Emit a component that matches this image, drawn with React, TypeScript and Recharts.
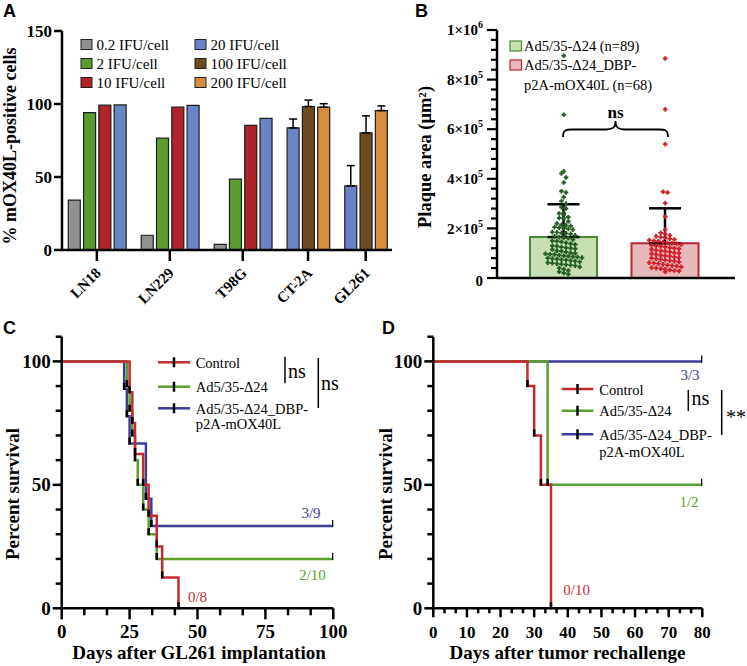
import React from 'react';
import {
  BarChart, Bar, Cell, ErrorBar, XAxis, YAxis, Legend,
  ComposedChart, Scatter, LineChart, Line,
} from 'recharts';

const SERIF = '"Liberation Serif", "Times New Roman", serif';
const SANS = '"Liberation Sans", Arial, sans-serif';
const INK = '#000';

// ---------- A: % mOX40L-positive cells per cell line and dose
const cellLines = ['LN18', 'LN229', 'T98G', 'CT-2A', 'GL261'];
const doseLabels = ['0.2 IFU/cell', '2 IFU/cell', '10 IFU/cell', '20 IFU/cell', '100 IFU/cell', '200 IFU/cell'];
const doseColors = ['#909090', '#5c9c2e', '#b1232b', '#6a85c7', '#6c4c1f', '#d58d3d'];
const pct02 = [34.2, 10.1, 3.9, null, null];
const pct2 = [94.1, 76.6, 48.5, null, null];
const pct10 = [99.2, 97.8, 85.3, null, null];
const pct20 = [99.4, 99.0, 90.1, 83.6, 43.9];
const pct100 = [null, null, null, 98.3, 80.2];
const pct200 = [null, null, null, 97.8, 95.5];
const sd20 = [null, null, null, 6.1, 13.9];
const sd100 = [null, null, null, 4.4, 11.7];
const sd200 = [null, null, null, 2.4, 3.2];

// ---------- B: plaque areas (µm²)
const plaqueGroups = ['Ad5/35-Δ24 (n=89)', 'Ad5/35-Δ24_DBP-p2A-mOX40L (n=68)'];
const plaqueMean = [165000, 140000];
const plaqueSd = [132000, 141000];
const plaqueDelta24 = [
  896000, 658000, 430000, 422000, 405000, 385000, 350000, 345000, 326000, 310000, 300000,
  285000, 280000, 262000, 260000, 255000, 245000, 242000, 240000, 228000, 220000, 215000, 212000,
  210000, 205000, 202000, 200000, 198000, 195000,
  185000, 184000, 182000, 180000, 178000, 172000, 168000, 165000, 162000, 160000, 155000, 150000,
  148000, 146000, 142000, 138000, 135000, 130000, 128000, 125000, 122000, 120000, 118000, 115000,
  110000, 108000, 105000, 102000, 100000, 98000, 96000, 95000, 92000, 90000, 88000, 86000, 84000,
  82000, 80000, 78000, 76000, 74000, 72000, 70000, 68000, 65000, 62000, 60000, 58000, 56000, 54000,
  52000, 50000, 45000, 40000, 35000, 30000, 25000, 20000, 15000,
];
const plaqueOX40L = [
  885000, 680000, 540000, 348000, 345000, 302000, 248000, 195000, 182000, 178000, 172000, 168000,
  165000, 162000, 158000, 155000, 152000, 150000,
  148000, 145000, 142000, 140000, 138000, 135000, 132000, 130000, 128000, 125000, 122000, 120000,
  118000, 115000, 112000, 110000, 108000, 105000, 102000, 100000, 98000, 95000, 92000, 90000,
  88000, 85000, 82000, 80000, 78000, 75000, 72000, 70000, 68000, 65000, 62000, 60000, 58000,
  55000, 52000, 50000, 48000, 45000, 42000, 40000, 38000, 35000, 32000, 30000, 28000, 25000,
];
const plaqueFill = ['#c7dfb3', '#e9b8bb'];
const plaqueStroke = ['#4b8a35', '#b8272f'];
const plaqueDot = ['#245c24', '#cf2028'];

// ---------- C / D: survival
const survivalGroups = ['Control', 'Ad5/35-Δ24', 'Ad5/35-Δ24_DBP-p2A-mOX40L'];
const survivalColors = ['#c62a2f', '#5aa02e', '#3a3e98'];
const cControlDays = [0, 25, 26, 27, 30, 32, 35, 37, 43];
const cControlSurv = [100, 87.5, 75, 62.5, 50, 37.5, 25, 12.5, 0];
const cDelta24Days = [0, 24, 25, 26, 27, 28, 30, 32, 35, 100];
const cDelta24Surv = [100, 90, 80, 70, 60, 50, 40, 30, 20, 20];
const cOX40LDays = [0, 23, 24, 25, 31, 33, 100];
const cOX40LSurv = [100, 88.9, 77.8, 66.7, 44.4, 33.3, 33.3];
const dControlDays = [0, 28, 30, 32, 35];
const dControlSurv = [100, 90, 70, 50, 0];
const dDelta24Days = [0, 34, 80];
const dDelta24Surv = [100, 50, 50];
const dOX40LDays = [0, 80];
const dOX40LSurv = [100, 100];

// ---------- derived tables
const doseValues = [pct02, pct2, pct10, pct20, pct100, pct200];
const doseSd = [null, null, null, sd20, sd100, sd200];
const GROUP_GAP = 1.77;
const barRows: any[] = [];
const groupCenters: number[] = [];
let slot = 0;
cellLines.forEach((_, li) => {
  const start = slot;
  doseValues.forEach((vals, di) => {
    const v = vals[li];
    if (v == null) return;
    const sd = doseSd[di] ? doseSd[di]![li] : null;
    barRows.push({ pos: slot, value: v, dose: di, err: sd != null ? [0, sd] : undefined });
    slot += 1;
  });
  groupCenters.push((start + slot - 1) / 2);
  slot += GROUP_GAP - 1;
});

const plaqueBars = plaqueGroups.map((name, i) => ({ name, mean: plaqueMean[i], sdRange: [0, plaqueSd[i]] }));

// simple binned beeswarm: points of similar value share a row, centred on the group
function swarm(values: number[], center: number, bin: number, step: number) {
  const rows = new Map<number, number[]>();
  values.forEach((v) => {
    const k = Math.round(v / bin);
    rows.set(k, [...(rows.get(k) ?? []), v]);
  });
  const out: { x: number; y: number }[] = [];
  rows.forEach((vs) => vs.forEach((v, i) => out.push({ x: center + (i - (vs.length - 1) / 2) * step, y: v })));
  return out;
}
const swarmDelta24 = swarm(plaqueDelta24, 1, 18000, 0.045);
const swarmOX40L = swarm(plaqueOX40L, 2, 18000, 0.045);

const zipCurve = (days: number[], surv: number[]) => days.map((t, i) => ({ t, s: surv[i] }));
const curvesC = [zipCurve(cControlDays, cControlSurv), zipCurve(cDelta24Days, cDelta24Surv), zipCurve(cOX40LDays, cOX40LSurv)];
const curvesD = [zipCurve(dControlDays, dControlSurv), zipCurve(dDelta24Days, dDelta24Surv), zipCurve(dOX40LDays, dOX40LSurv)];

const ticksC = Array.from({ length: 13 }, (_, i) => (i * 25) / 3);
const ticksD = Array.from({ length: 25 }, (_, i) => (i * 10) / 3);
const pctTicks = Array.from({ length: 12 }, (_, i) => i * 10);
const plaqueTicks = Array.from({ length: 26 }, (_, i) => i * 40000);

// ---------- small renderers
function AxisTitle(props: any) {
  const { px, py, text, rotate, size = 19 } = props;
  return (
    <text x={px} y={py} transform={rotate ? `rotate(-90 ${px} ${py})` : undefined} textAnchor="middle"
      fontFamily={SERIF} fontWeight="bold" fontSize={size} fill={INK}>{text}</text>
  );
}

function CellLineTick(props: any) {
  const { x, y, index } = props;
  const tx = x + 5, ty = y + 24;
  return (
    <g>
      <line x1={x} x2={x} y1={y} y2={y + 11} stroke={INK} strokeWidth={2.5} />
      <text x={tx} y={ty} transform={`rotate(-45 ${tx} ${ty})`} textAnchor="end" fontFamily={SERIF}
        fontWeight="bold" fontSize={15} fill={INK}>{cellLines[index]}</text>
    </g>
  );
}

function PercentATick(props: any) {
  const { x, y, payload } = props;
  return (
    <g>
      <line x1={x - 8} x2={x} y1={y} y2={y} stroke={INK} strokeWidth={2.5} />
      <text x={x - 10} y={y} dy="0.34em" textAnchor="end" fontFamily={SERIF} fontWeight="bold" fontSize={17} fill={INK}>
        {payload.value}
      </text>
    </g>
  );
}

function PlaqueTick(props: any) {
  const { x, y, payload, index } = props;
  const v = payload.value;
  const major = index % 5 === 0;
  let label: React.ReactNode = null;
  if (major) {
    if (v === 0) label = '0';
    else {
      const exp = Math.floor(Math.log10(v) + 1e-9);
      const mant = Math.round(v / Math.pow(10, exp));
      label = (
        <>
          <tspan>{`${mant}×10`}</tspan>
          <tspan dy={-7} fontSize={10}>{exp}</tspan>
        </>
      );
    }
  }
  return (
    <g>
      <line x1={x - (major ? 10 : 6)} x2={x} y1={y} y2={y} stroke={INK} strokeWidth={2.2} />
      {major && (
        <text x={x - 14} y={y} dy={v === 0 ? '0.55em' : '0.35em'} textAnchor="end" fontFamily={SERIF}
          fontWeight="bold" fontSize={15} fill={INK}>{label}</text>
      )}
    </g>
  );
}

function PercentTick(props: any) {
  const { x, y, payload } = props;
  const major = payload.value % 50 === 0;
  return (
    <g>
      <line x1={x - (major ? 9 : 6)} x2={x} y1={y} y2={y} stroke={INK} strokeWidth={2.5} />
      {major && (
        <text x={x - 11} y={y} dy="0.33em" textAnchor="end" fontFamily={SERIF} fontWeight="bold" fontSize={19} fill={INK}>
          {payload.value}
        </text>
      )}
    </g>
  );
}

function TimeTick(props: any) {
  const { x, y, payload, index, fontSize, majorLen, minorLen } = props;
  const major = index % 3 === 0;
  return (
    <g>
      <line x1={x} x2={x} y1={y} y2={y + (major ? majorLen : minorLen)} stroke={INK} strokeWidth={2.5} />
      {major && (
        <text x={x} y={y + 30} textAnchor="middle" fontFamily={SERIF} fontWeight="bold" fontSize={fontSize} fill={INK}>
          {Math.round(payload.value)}
        </text>
      )}
    </g>
  );
}

const censorDot = (p: any) =>
  p.index === 0 ? <g key={`c${p.index}`} /> : (
    <line key={`c${p.index}`} x1={p.cx} x2={p.cx} y1={p.cy - 6} y2={p.cy + 1} stroke={INK} strokeWidth={2.5} />
  );

const plusShape = (color: string) => (p: any) => (
  <path d={`M${p.cx - 2.3},${p.cy}H${p.cx + 2.3}M${p.cx},${p.cy - 2.3}V${p.cy + 2.3}`} stroke={color} strokeWidth={1.9} />
);

function DoseLegend() {
  return (
    <svg width={400} height={100} style={{ display: 'block' }}>
      {doseLabels.map((label, i) => {
        const x = i < 3 ? 81 : 195;
        const y = 39.5 + (i % 3) * 19;
        return (
          <g key={label}>
            <rect x={x} y={y} width={11} height={10} fill={doseColors[i]} stroke="#222" strokeWidth={1} />
            <text x={x + 15.5} y={y + 10.3} fontFamily={SERIF} fontSize={15} fill={INK}>{label}</text>
          </g>
        );
      })}
    </svg>
  );
}

function PlaqueLegend() {
  const rows = [41, 60];
  return (
    <svg width={367} height={100} style={{ display: 'block' }}>
      {plaqueGroups.map((label, i) => {
        const lines = label.replace('DBP-', 'DBP-\n').split('\n');
        return (
          <g key={label}>
            <rect x={130} y={rows[i]} width={11.5} height={10} fill={plaqueFill[i]} stroke={plaqueStroke[i]} strokeWidth={1.2} />
            {lines.map((ln, j) => (
              <text key={ln} x={144} y={rows[i] + 10 + j * 19.5} fontFamily={SERIF} fontSize={14.5} fill={INK}>{ln}</text>
            ))}
          </g>
        );
      })}
    </svg>
  );
}

function SurvivalLegend(props: any) {
  const { x0, x1, tx, rows, wrapGap } = props;
  return (
    <svg width={380} height={140} style={{ display: 'block' }}>
      {survivalGroups.map((label, i) => {
        const y = rows[i];
        const lines = label.replace('DBP-', 'DBP-\n').split('\n');
        return (
          <g key={label}>
            <line x1={x0} x2={x1} y1={y} y2={y} stroke={survivalColors[i]} strokeWidth={2.5} />
            <line x1={(x0 + x1) / 2} x2={(x0 + x1) / 2} y1={y - 5} y2={y + 5} stroke={INK} strokeWidth={2.5} />
            {lines.map((ln, j) => (
              <text key={ln} x={tx} y={y + 5.7 + j * wrapGap} fontFamily={SERIF} fontSize={14.5} fill={INK}>{ln}</text>
            ))}
          </g>
        );
      })}
    </svg>
  );
}

const axisLine = { stroke: INK, strokeWidth: 2.5 };
const legendWrap = { left: 0, top: 0, width: 'auto', height: 'auto' };

function PanelA() {
  return (
    <BarChart width={400} height={330} data={barRows} margin={{ top: 31, right: 8, left: 0, bottom: 0 }}>
      <XAxis dataKey="pos" type="number" domain={[-0.78, 20.8]} ticks={groupCenters} interval={0} height={80}
        tickSize={0} tickMargin={0} tickLine={false} axisLine={axisLine} tick={<CellLineTick />} allowDataOverflow />
      <YAxis type="number" domain={[0, 150]} ticks={[0, 50, 100, 150]} interval={0} width={62}
        tickSize={0} tickMargin={0} tickLine={false} axisLine={axisLine} tick={<PercentATick />}
        label={<AxisTitle px={16} py={146} text="% mOX40L-positive cells" rotate size={18} />} />
      <Bar dataKey="value" barSize={12} stroke="#1e1e1e" strokeWidth={1.2} isAnimationActive={false}>
        {barRows.map((r, i) => <Cell key={i} fill={doseColors[r.dose]} />)}
        <ErrorBar dataKey="err" direction="y" width={4} stroke={INK} strokeWidth={1.5} />
      </Bar>
      <Legend layout="horizontal" verticalAlign="middle" align="center" wrapperStyle={legendWrap} content={() => <DoseLegend />} />
    </BarChart>
  );
}

function PanelB() {
  return (
    <ComposedChart width={367} height={330} data={plaqueBars} margin={{ top: 30, right: 12, left: 0, bottom: 22 }}>
      <XAxis xAxisId="cat" dataKey="name" type="category" padding={{ left: 16, right: 19 }} height={30}
        tick={false} tickLine={false} axisLine={axisLine} />
      <XAxis xAxisId="num" dataKey="x" type="number" domain={[0.5, 2.5]} padding={{ left: 16, right: 19 }} hide allowDataOverflow />
      <YAxis type="number" domain={[0, 1000000]} ticks={plaqueTicks} interval={0} width={117}
        tickSize={0} tickMargin={0} tickLine={false} axisLine={axisLine} tick={<PlaqueTick />}
        label={<AxisTitle px={51} py={157} text="Plaque area (μm²)" rotate size={18.5} />} />
      <Bar xAxisId="cat" dataKey="mean" barSize={67} strokeWidth={2} isAnimationActive={false}>
        {plaqueBars.map((_, i) => <Cell key={i} fill={plaqueFill[i]} stroke={plaqueStroke[i]} />)}
        <ErrorBar dataKey="sdRange" direction="y" width={16} stroke={INK} strokeWidth={2.5} />
      </Bar>
      <Scatter xAxisId="num" data={swarmDelta24} dataKey="y" isAnimationActive={false} shape={plusShape(plaqueDot[0])} />
      <Scatter xAxisId="num" data={swarmOX40L} dataKey="y" isAnimationActive={false} shape={plusShape(plaqueDot[1])} />
      <Legend layout="horizontal" verticalAlign="middle" align="center" wrapperStyle={legendWrap} content={() => <PlaqueLegend />} />
    </ComposedChart>
  );
}

function SurvivalChart(props: any) {
  const { width, right, domainMax, ticks, curves, labelSize, majorLen, minorLen, yTitleX, xTitleX, xTitle, legend } = props;
  const order = [2, 1, 0];
  return (
    <LineChart width={width} height={336} margin={{ top: 6.7, right, left: 0, bottom: 0 }}>
      <XAxis dataKey="t" type="number" domain={[0, domainMax]} ticks={ticks} interval={0} height={57.7}
        tickSize={0} tickMargin={0} tickLine={false} axisLine={axisLine}
        tick={<TimeTick fontSize={labelSize} majorLen={majorLen} minorLen={minorLen} />}
        label={<AxisTitle px={xTitleX} py={329} text={xTitle} />} allowDataOverflow />
      <YAxis type="number" domain={[0, 110]} ticks={pctTicks} interval={0} width={props.yWidth}
        tickSize={0} tickMargin={0} tickLine={false} axisLine={axisLine} tick={<PercentTick />}
        label={<AxisTitle px={yTitleX} py={164} text="Percent survival" rotate />} />
      {order.map((i) => (
        <Line key={i} data={curves[i]} dataKey="s" type="stepAfter" stroke={survivalColors[i]} strokeWidth={2.5}
          dot={censorDot} activeDot={false} isAnimationActive={false} />
      ))}
      <Legend layout="horizontal" verticalAlign="middle" align="center" wrapperStyle={legendWrap} content={() => legend} />
    </LineChart>
  );
}

function Overlay() {
  const letter = { fontFamily: SANS, fontWeight: 'bold' as const, fontSize: 18, fill: INK };
  const frac = { fontFamily: SERIF, fontSize: 15, textAnchor: 'middle' as const };
  const sig = { fontFamily: SERIF, fontSize: 20, fill: INK };
  return (
    <svg width={747} height={666} style={{ position: 'absolute', left: 0, top: 0, pointerEvents: 'none' }}>
      <text x={3} y={17} {...letter}>A</text>
      <text x={415} y={17} {...letter}>B</text>
      <text x={3} y={334} {...letter}>C</text>
      <text x={382} y={334} {...letter}>D</text>

      <path d="M563,137 C563,130 566,129.5 572,129.5 L606,129.5 C612,129.5 615.5,128 615.5,121 C615.5,128 619,129.5 625,129.5 L659,129.5 C665,129.5 668,130 668,137"
        fill="none" stroke={INK} strokeWidth={1.8} />
      <text x={615.5} y={118} textAnchor="middle" fontFamily={SERIF} fontWeight="bold" fontSize={17}>ns</text>

      <line x1={285} x2={285} y1={356.7} y2={383.3} stroke={INK} strokeWidth={1.5} />
      <text x={288} y={378} {...sig}>ns</text>
      <line x1={318.3} x2={318.3} y1={358} y2={408} stroke={INK} strokeWidth={1.5} />
      <text x={321} y={390} {...sig}>ns</text>
      <text x={311} y={518} {...frac} fill={survivalColors[2]}>3/9</text>
      <text x={312.5} y={580} {...frac} fill={survivalColors[1]}>2/10</text>
      <text x={197.5} y={601.7} {...frac} fill={survivalColors[0]}>0/8</text>

      <line x1={688.3} x2={688.3} y1={390} y2={411} stroke={INK} strokeWidth={1.5} />
      <text x={691.5} y={405} {...sig}>ns</text>
      <line x1={721.7} x2={721.7} y1={390} y2={435} stroke={INK} strokeWidth={1.5} />
      <text x={726} y={424} {...sig}>**</text>
      <text x={690} y={380} {...frac} fill={survivalColors[2]}>3/3</text>
      <text x={689} y={507} {...frac} fill={survivalColors[1]}>1/2</text>
      <text x={576.7} y={595} {...frac} fill={survivalColors[0]}>0/10</text>
    </svg>
  );
}

export default function App() {
  return (
    <div style={{ position: 'absolute', left: 0, top: 0, width: 747, height: 666, background: '#fff', overflow: 'hidden', fontFamily: SERIF }}>
      <div style={{ position: 'absolute', left: 0, top: 0 }}><PanelA /></div>
      <div style={{ position: 'absolute', left: 380, top: 0 }}><PanelB /></div>
      <div style={{ position: 'absolute', left: 0, top: 330 }}>
        <SurvivalChart width={368} right={34.7} yWidth={61.7} domainMax={100} ticks={ticksC} curves={curvesC}
          labelSize={19} majorLen={11} minorLen={7} yTitleX={19} xTitleX={199} xTitle="Days after GL261 implantation"
          legend={<SurvivalLegend x0={158} x1={190} tx={195.7} rows={[32.3, 56.7, 78.3]} wrapGap={14.5} />} />
      </div>
      <div style={{ position: 'absolute', left: 368, top: 330 }}>
        <SurvivalChart width={379} right={44.7} yWidth={65.3} domainMax={80} ticks={ticksD} curves={curvesD}
          labelSize={17} majorLen={9} minorLen={5} yTitleX={24} xTitleX={199.5} xTitle="Days after tumor rechallenge"
          legend={<SurvivalLegend x0={193.7} x1={225.3} tx={231.3} rows={[59, 80.7, 104.3]} wrapGap={17} />} />
      </div>
      <Overlay />
    </div>
  );
}
